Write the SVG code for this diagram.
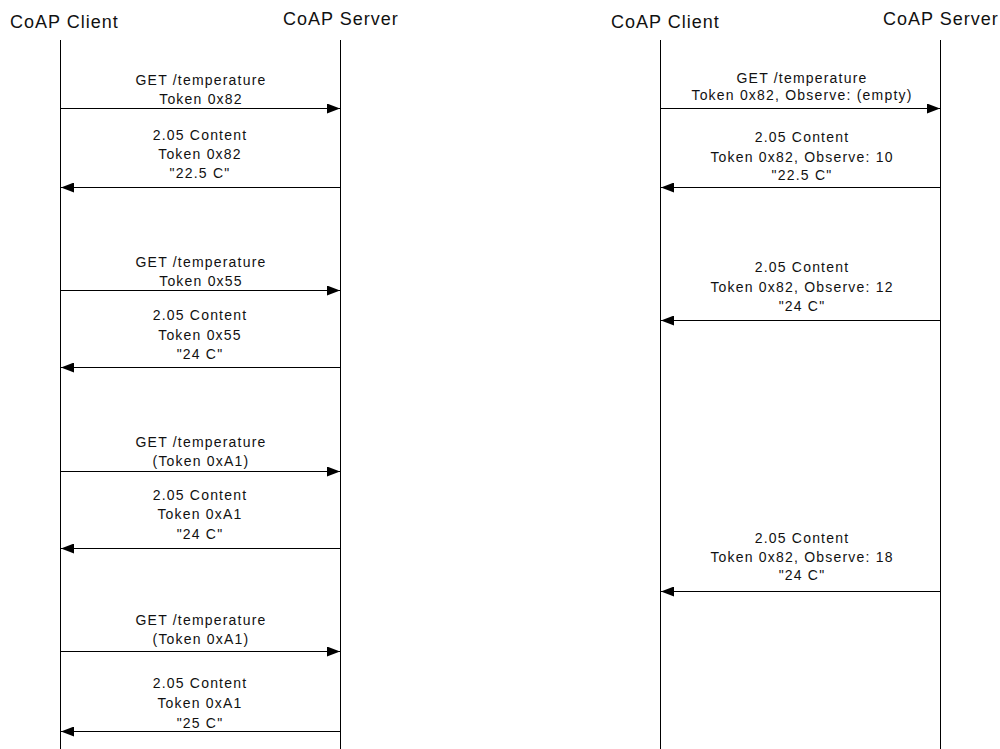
<svg xmlns="http://www.w3.org/2000/svg" width="1000" height="749" viewBox="0 0 1000 749">
  <style>
    .bg { fill: #ffffff; }
    .life { stroke: #000; stroke-width: 1; fill: none; }
    .head { font-family: "Liberation Sans", Arial, sans-serif; font-size: 18px; letter-spacing: 1px; fill: #111; }
    .msg { stroke: #000; stroke-width: 1; fill: none; marker-end: url(#arrow); }
    .lbl { font-family: "Liberation Sans", Arial, sans-serif; font-size: 14px; letter-spacing: 1.2px; fill: #111; text-anchor: middle; }
  </style>
  <defs>
    <marker id="arrow" markerUnits="userSpaceOnUse" markerWidth="13" markerHeight="10" refX="13" refY="5" orient="auto">
      <path d="M0,0 L13,5 L0,10 z" fill="#000"/>
    </marker>
  </defs>
  <rect class="bg" x="0" y="0" width="1000" height="749"/>

  <!-- Participants: plain request/response exchange -->
  <g id="client-a">
    <text class="head" x="10" y="28">CoAP Client</text>
    <line class="life" x1="60.5" y1="40" x2="60.5" y2="749"/>
  </g>
  <g id="server-a">
    <text class="head" x="283" y="25">CoAP Server</text>
    <line class="life" x1="340.5" y1="40" x2="340.5" y2="749"/>
  </g>

  <!-- Participants: observe exchange -->
  <g id="client-b">
    <text class="head" x="611" y="28">CoAP Client</text>
    <line class="life" x1="660.5" y1="40" x2="660.5" y2="749"/>
  </g>
  <g id="server-b">
    <text class="head" x="883" y="25">CoAP Server</text>
    <line class="life" x1="940.5" y1="40" x2="940.5" y2="749"/>
  </g>

  <!-- Messages -->
  <g id="connectors">
    <line class="msg" x1="60.5" y1="108.5" x2="340" y2="108.5"/>
    <line class="msg" x1="340.5" y1="187.5" x2="61" y2="187.5"/>
    <line class="msg" x1="60.5" y1="290.5" x2="340" y2="290.5"/>
    <line class="msg" x1="340.5" y1="367.5" x2="61" y2="367.5"/>
    <line class="msg" x1="60.5" y1="471.5" x2="340" y2="471.5"/>
    <line class="msg" x1="340.5" y1="548.5" x2="61" y2="548.5"/>
    <line class="msg" x1="60.5" y1="651.5" x2="340" y2="651.5"/>
    <line class="msg" x1="340.5" y1="731.5" x2="61" y2="731.5"/>

    <line class="msg" x1="660.5" y1="108.5" x2="940" y2="108.5"/>
    <line class="msg" x1="940.5" y1="187.5" x2="661" y2="187.5"/>
    <line class="msg" x1="940.5" y1="320.5" x2="661" y2="320.5"/>
    <line class="msg" x1="940.5" y1="591.5" x2="661" y2="591.5"/>
  </g>

  <!-- Message labels -->
  <g id="labels-a">
    <text class="lbl" x="201" y="85">GET /temperature</text>
    <text class="lbl" x="201" y="104">Token 0x82</text>

    <text class="lbl" x="200" y="140">2.05 Content</text>
    <text class="lbl" x="200" y="159">Token 0x82</text>
    <text class="lbl" x="200" y="178">"22.5 C"</text>

    <text class="lbl" x="201" y="267">GET /temperature</text>
    <text class="lbl" x="201" y="286">Token 0x55</text>

    <text class="lbl" x="200" y="320">2.05 Content</text>
    <text class="lbl" x="200" y="340">Token 0x55</text>
    <text class="lbl" x="200" y="359">"24 C"</text>

    <text class="lbl" x="201" y="447">GET /temperature</text>
    <text class="lbl" x="201" y="466">(Token 0xA1)</text>

    <text class="lbl" x="200" y="500">2.05 Content</text>
    <text class="lbl" x="200" y="519">Token 0xA1</text>
    <text class="lbl" x="200" y="539">"24 C"</text>

    <text class="lbl" x="201" y="625">GET /temperature</text>
    <text class="lbl" x="201" y="644">(Token 0xA1)</text>

    <text class="lbl" x="200" y="688">2.05 Content</text>
    <text class="lbl" x="200" y="708">Token 0xA1</text>
    <text class="lbl" x="200" y="728">"25 C"</text>
  </g>

  <g id="labels-b">
    <text class="lbl" x="802" y="83">GET /temperature</text>
    <text class="lbl" x="802" y="100">Token 0x82, Observe: (empty)</text>

    <text class="lbl" x="802" y="142">2.05 Content</text>
    <text class="lbl" x="802" y="162">Token 0x82, Observe: 10</text>
    <text class="lbl" x="802" y="180">"22.5 C"</text>

    <text class="lbl" x="802" y="272">2.05 Content</text>
    <text class="lbl" x="802" y="292">Token 0x82, Observe: 12</text>
    <text class="lbl" x="802" y="311">"24 C"</text>

    <text class="lbl" x="802" y="543">2.05 Content</text>
    <text class="lbl" x="802" y="562">Token 0x82, Observe: 18</text>
    <text class="lbl" x="802" y="580">"24 C"</text>
  </g>
</svg>
